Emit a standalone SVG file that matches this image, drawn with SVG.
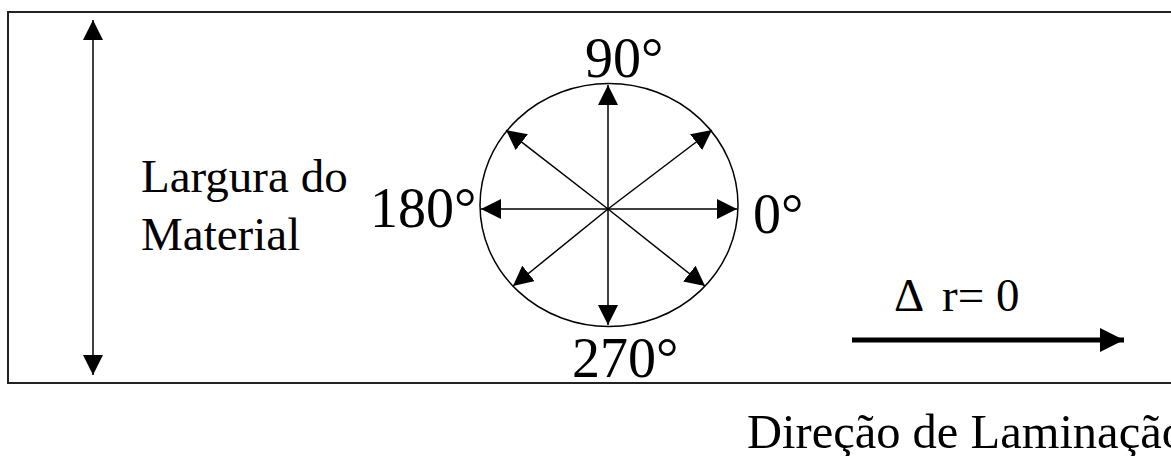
<svg xmlns="http://www.w3.org/2000/svg" width="1171" height="456" viewBox="0 0 1171 456">
<style>
  .t { font-family: "Liberation Serif", "Times New Roman", serif; fill: #000; }
  .lbl { font-size: 47px; }
  .deg { font-size: 56px; }
  .thin { stroke: #000; stroke-width: 1.5; fill: none; }
</style>
<defs>
  <marker id="ah" markerUnits="userSpaceOnUse" markerWidth="20" markerHeight="20" viewBox="0 0 18 18" refX="18" refY="9" orient="auto">
    <path d="M0,0 L18,9 L0,18 Z" fill="#000"/>
  </marker>
  <marker id="ahs" markerUnits="userSpaceOnUse" markerWidth="20" markerHeight="20" viewBox="0 0 18 18" refX="18" refY="9" orient="auto-start-reverse">
    <path d="M0,0 L18,9 L0,18 Z" fill="#000"/>
  </marker>
  <marker id="ahb" markerUnits="userSpaceOnUse" markerWidth="24" markerHeight="24" viewBox="0 0 22 22" refX="22" refY="11" orient="auto">
    <path d="M0,0 L22,11 L0,22 Z" fill="#000"/>
  </marker>
</defs>

<g id="material">
  <rect x="8" y="12" width="1180" height="371" fill="none" stroke="#222" stroke-width="2"/>
</g>

<g id="circle-node">
  <ellipse cx="609" cy="205" rx="129" ry="121.5" class="thin"/>
</g>

<g id="connectors">
  <line x1="93" y1="20" x2="93" y2="375" class="thin" marker-start="url(#ahs)" marker-end="url(#ah)"/>
  <line x1="608" y1="209" x2="608" y2="85" class="thin" marker-end="url(#ah)"/>
  <line x1="608" y1="209" x2="608" y2="325" class="thin" marker-end="url(#ah)"/>
  <line x1="608" y1="209" x2="481" y2="209" class="thin" marker-end="url(#ah)"/>
  <line x1="608" y1="209" x2="737" y2="209" class="thin" marker-end="url(#ah)"/>
  <line x1="608" y1="209" x2="506" y2="130" class="thin" marker-end="url(#ah)"/>
  <line x1="608" y1="209" x2="712" y2="130" class="thin" marker-end="url(#ah)"/>
  <line x1="608" y1="209" x2="513" y2="286" class="thin" marker-end="url(#ah)"/>
  <line x1="608" y1="209" x2="705" y2="286" class="thin" marker-end="url(#ah)"/>
  <line x1="852" y1="340" x2="1124" y2="340" stroke="#000" stroke-width="5" marker-end="url(#ahb)"/>
</g>

<g id="labels">
  <text class="t deg" x="585" y="77">90°</text>
  <text class="t deg" x="370" y="227">180°</text>
  <text class="t deg" x="753" y="233">0°</text>
  <text class="t deg" x="572" y="377">270°</text>
  <text class="t lbl" x="141" y="192">Largura do</text>
  <text class="t lbl" x="141" y="250">Material</text>
  <text class="t lbl" x="894" y="311">Δ<tspan x="942">r= 0</tspan></text>
  <text class="t" style="font-size:48.5px" x="747" y="448">Direção de Laminação</text>
</g>
</svg>
